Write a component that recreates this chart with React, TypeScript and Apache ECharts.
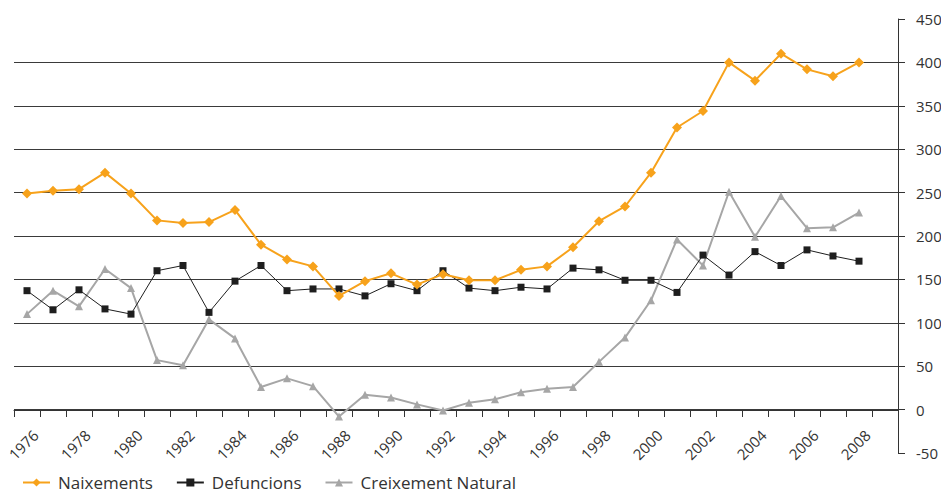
import React, { useEffect, useRef } from "react";
import * as echarts from "echarts";

const years = [
  "1976", "1977", "1978", "1979", "1980", "1981", "1982", "1983", "1984", "1985",
  "1986", "1987", "1988", "1989", "1990", "1991", "1992", "1993", "1994", "1995",
  "1996", "1997", "1998", "1999", "2000", "2001", "2002", "2003", "2004", "2005",
  "2006", "2007", "2008", "2009",
];

const naixements = [
  249, 252, 254, 273, 249, 218, 215, 216, 230, 190,
  173, 165, 131, 148, 157, 144, 156, 149, 149, 161,
  165, 187, 217, 234, 273, 325, 344, 400, 379, 410,
  392, 384, 400,
];

const defuncions = [
  137, 115, 138, 116, 110, 160, 166, 112, 148, 166,
  137, 139, 139, 131, 145, 137, 160, 140, 137, 141,
  139, 163, 161, 149, 149, 135, 178, 155, 182, 166,
  184, 177, 171,
];

const creixement = [
  110, 137, 119, 162, 140, 57, 51, 104, 82, 26,
  36, 27, -8, 17, 14, 6, -1, 8, 12, 20,
  24, 26, 55, 83, 126, 196, 166, 251, 199, 246,
  209, 210, 227,
];

const FONT = "'Open Sans', 'Noto Sans', sans-serif";

export default function App() {
  const ref = useRef<HTMLDivElement>(null);
  useEffect(() => {
    if (!ref.current) return;
    const chart = echarts.init(ref.current, undefined, { renderer: "svg" });
    chart.setOption({
      animation: false,
      backgroundColor: "#ffffff",
      textStyle: { fontFamily: FONT },
      grid: {
        left: 14,
        right: 43,
        top: 19,
        bottom: 39,
        containLabel: false,
        outerBoundsMode: "none",
      },
      legend: {
        left: 17,
        top: 469,
        itemWidth: 27,
        itemHeight: 10,
        itemGap: 23,
        textStyle: { fontSize: 17, color: "#333", fontFamily: FONT, padding: [0, 0, 0, 3] },
        data: ["Naixements", "Defuncions", "Creixement Natural"],
      },
      xAxis: {
        type: "category",
        data: years,
        boundaryGap: true,
        offset: -43,
        axisLine: { onZero: false, lineStyle: { color: "#333", width: 1 } },
        axisTick: { show: true, interval: 0, length: 7, lineStyle: { color: "#333" } },
        axisLabel: {
          interval: 1,
          rotate: 45,
          margin: 14,
          lineHeight: 24,
          formatter: (v: string) => "\n" + v,
          fontSize: 15,
          color: "#333",
          fontFamily: FONT,
        },
        splitLine: { show: false },
      },
      yAxis: {
        type: "value",
        position: "right",
        min: -50,
        max: 450,
        interval: 50,
        axisLine: { show: true, lineStyle: { color: "#333", width: 1 } },
        axisTick: { show: true, inside: false, length: 7, lineStyle: { color: "#333" } },
        axisLabel: { margin: 18, fontSize: 15, color: "#333", fontFamily: FONT },
        splitLine: {
          show: true,
          showMinLine: false,
          showMaxLine: false,
          lineStyle: { color: "#3a3a3a", width: 1 },
        },
      },
      series: [
        {
          name: "Creixement Natural",
          type: "line",
          data: creixement,
          symbol: "triangle",
          symbolSize: 8,
          lineStyle: { color: "#a6a6a6", width: 2 },
          itemStyle: { color: "#a6a6a6" },
          z: 2,
        },
        {
          name: "Defuncions",
          type: "line",
          data: defuncions,
          symbol: "rect",
          symbolSize: 7,
          lineStyle: { color: "#1e1e1e", width: 1 },
          itemStyle: { color: "#1e1e1e" },
          z: 3,
        },
        {
          name: "Naixements",
          type: "line",
          data: naixements,
          symbol: "diamond",
          symbolSize: 10,
          lineStyle: { color: "#f7a21b", width: 2 },
          itemStyle: { color: "#f7a21b" },
          z: 4,
        },
      ],
    });
    return () => chart.dispose();
  }, []);
  return (
    <div
      ref={ref}
      style={{ position: "absolute", left: 0, top: 0, width: 941, height: 492 }}
    />
  );
}
